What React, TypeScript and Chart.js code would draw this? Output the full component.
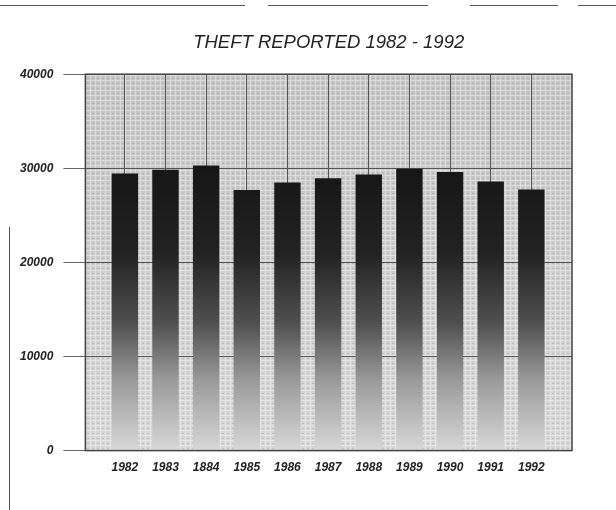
import React, { useEffect, useRef } from "react";
import { Chart, registerables } from "chart.js";

Chart.register(...registerables);

const years = ["1982", "1983", "1884", "1985", "1986", "1987", "1988", "1989", "1990", "1991", "1992"];
const theftReported = [29450, 29850, 30300, 27700, 28500, 28950, 29350, 29950, 29600, 28600, 27750];
const yTicks = [0, 10000, 20000, 30000, 40000];
const titleText = "THEFT REPORTED 1982 - 1992";

const FONT = "'Liberation Sans', Arial, Helvetica, sans-serif";

function makePattern(ctx: CanvasRenderingContext2D) {
  const c = document.createElement("canvas");
  c.width = 5;
  c.height = 5;
  const p = c.getContext("2d")!;
  p.fillStyle = "rgba(255,255,255,0.35)";
  p.fillRect(0, 0, 5, 1);
  p.fillRect(0, 0, 1, 5);
  p.fillStyle = "rgba(90,90,90,0.18)";
  p.fillRect(2, 3, 2, 1);
  return ctx.createPattern(c, "repeat");
}

const framePlugin = {
  id: "frame",
  beforeDraw(chart: any) {
    const { ctx, chartArea: a } = chart;
    if (!a) return;
    ctx.save();
    const g = ctx.createLinearGradient(0, a.top, 0, a.bottom);
    g.addColorStop(0, "#c4c4c4");
    g.addColorStop(0.3, "#c9c9c9");
    g.addColorStop(0.7, "#d2d2d2");
    g.addColorStop(1, "#d7d7d7");
    ctx.fillStyle = g;
    ctx.fillRect(a.left, a.top, a.right - a.left, a.bottom - a.top);
    const pat = makePattern(ctx);
    if (pat) {
      ctx.fillStyle = pat;
      ctx.fillRect(a.left, a.top, a.right - a.left, a.bottom - a.top);
    }
    ctx.restore();
  },
  afterDraw(chart: any) {
    const { ctx, chartArea: a } = chart;
    ctx.save();
    ctx.strokeStyle = "#444";
    ctx.lineWidth = 1.5;
    ctx.strokeRect(a.left, a.top, a.right - a.left, a.bottom - a.top);
    // scan artifacts: top rule and left rule
    ctx.strokeStyle = "#555";
    ctx.lineWidth = 1;
    ctx.beginPath();
    const segs = [[0, 245], [268, 428], [470, 558], [578, 616]];
    for (const [x0, x1] of segs) {
      ctx.moveTo(x0, 5.5);
      ctx.lineTo(x1, 5.5);
    }
    ctx.moveTo(9.5, 227);
    ctx.lineTo(9.5, 510);
    ctx.stroke();
    ctx.restore();
  },
};

export default function App() {
  const ref = useRef<HTMLCanvasElement | null>(null);
  useEffect(() => {
    document.body.style.margin = "0";
    const canvas = ref.current!;
    const chart = new Chart(canvas, {
      type: "bar",
      data: {
        datasets: [
          {
            label: "Theft reported",
            data: theftReported.map((v, i) => ({ x: i, y: v })),
            backgroundColor: (c: any) => {
              const ch = c.chart;
              const a = ch.chartArea;
              if (!a) return "#222";
              const ys = ch.scales.y;
              const top = ys.getPixelForValue(30000);
              const bot = ys.getPixelForValue(0);
              const g = ch.ctx.createLinearGradient(0, top, 0, bot);
              g.addColorStop(0, "#161616");
              g.addColorStop(0.3, "#222222");
              g.addColorStop(0.55, "#505050");
              g.addColorStop(0.75, "#9a9a9a");
              g.addColorStop(1, "#d8d8d8");
              return g;
            },
            borderWidth: 0,
            barPercentage: 0.65,
            categoryPercentage: 1,
          },
        ],
      },
      options: {
        responsive: false,
        animation: false,
        layout: { padding: { left: 10, right: 44, top: 32, bottom: 25 } },
        plugins: {
          legend: { display: false },
          tooltip: { enabled: false },
          title: {
            display: true,
            fullSize: false,
            text: titleText,
            color: "#222",
            font: { family: FONT, size: 18.5, style: "italic", weight: "normal" },
            padding: { top: 0, bottom: 20 },
          },
        },
        scales: {
          x: {
            type: "linear",
            offset: false,
            min: -0.971,
            max: 11.0,
            afterBuildTicks: (s: any) => {
              s.ticks = years.map((_, i) => ({ value: i }));
            },
            ticks: {
              autoSkip: false,
              maxRotation: 0,
              padding: 10,
              color: "#222",
              font: { family: FONT, size: 12, style: "italic", weight: "bold" },
              callback: (v: any) => years[Math.round(Number(v))] ?? "",
            },
            grid: { color: "#555", lineWidth: 1, drawTicks: false, offset: false },
            border: { display: false },
          },
          y: {
            min: 0,
            max: 40000,
            afterBuildTicks: (s: any) => {
              s.ticks = yTicks.map((v) => ({ value: v }));
            },
            ticks: {
              padding: 10,
              color: "#222",
              font: { family: FONT, size: 12, style: "italic", weight: "bold" },
              callback: (v: any) => String(v),
            },
            grid: { color: "#555", lineWidth: 1, tickLength: 22, tickColor: "#666" },
            border: { display: false },
          },
        },
      },
      plugins: [framePlugin],
    } as any);
    return () => chart.destroy();
  }, []);
  return <canvas ref={ref} width={616} height={510} style={{ display: "block" }} />;
}
